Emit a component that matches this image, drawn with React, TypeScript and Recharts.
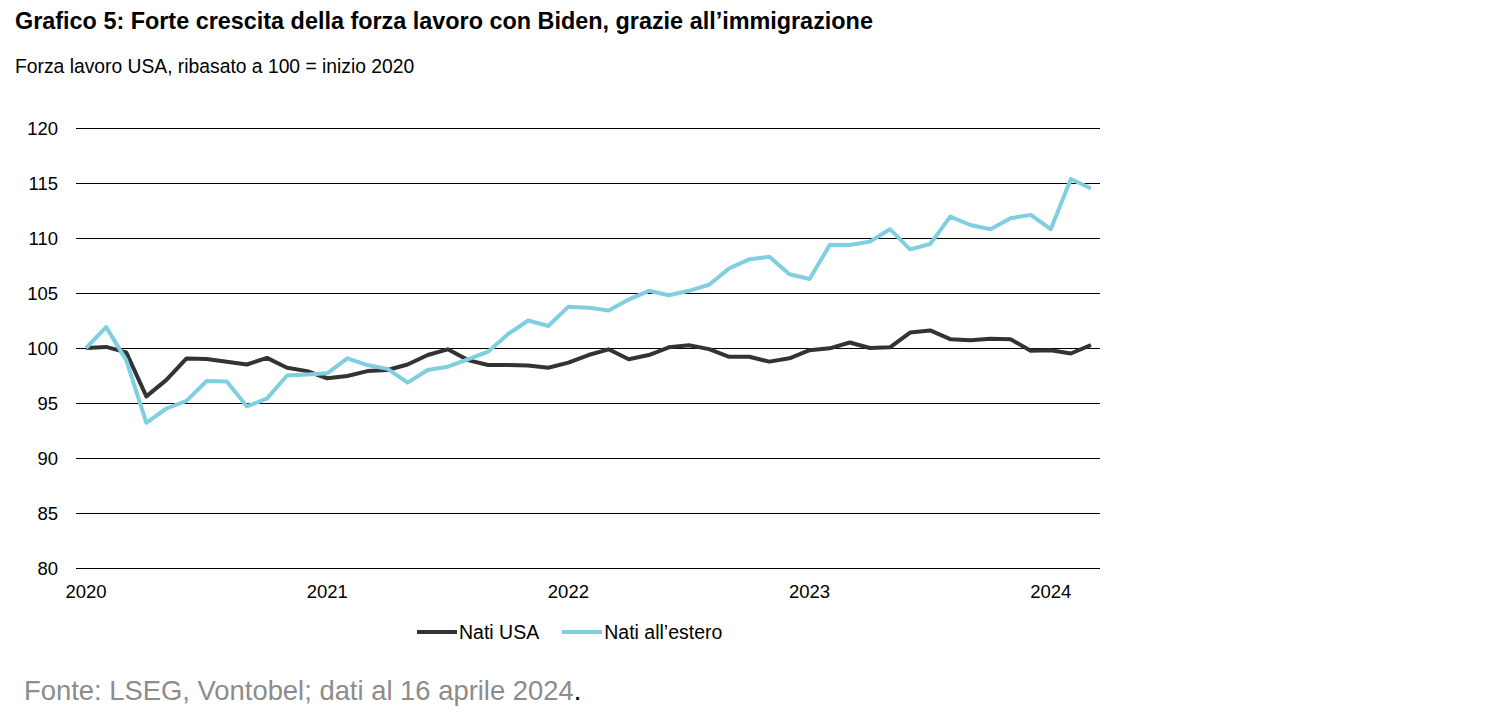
import React from "react";
import { LineChart, Line, XAxis, YAxis, CartesianGrid } from "recharts";

const months: number[] = Array.from({ length: 51 }, (_, i) => i);

const natiUSA: number[] = [
  100.0, 100.1, 99.6, 95.6, 97.1, 99.05, 99.0, 98.75, 98.5, 99.1,
  98.2, 97.9, 97.25, 97.45, 97.9, 98.0, 98.5, 99.36, 99.88, 98.9,
  98.45, 98.45, 98.4, 98.2, 98.67, 99.36, 99.88, 98.97, 99.36, 100.06,
  100.25, 99.9, 99.2, 99.2, 98.76, 99.06, 99.8, 99.97, 100.5, 100.0,
  100.06, 101.4, 101.6, 100.8, 100.7, 100.85, 100.8, 99.76, 99.8, 99.5,
  100.27,
];

const natiEstero: number[] = [
  100.0, 101.9, 98.9, 93.2, 94.5, 95.2, 97.0, 96.95, 94.7, 95.4,
  97.5, 97.6, 97.7, 99.06, 98.45, 98.1, 96.85, 98.0, 98.3, 98.97,
  99.67, 101.27, 102.5, 102.0, 103.76, 103.67, 103.4, 104.4, 105.2, 104.8,
  105.2, 105.75, 107.24, 108.06, 108.3, 106.7, 106.27, 109.36, 109.36, 109.67,
  110.8, 108.97, 109.45, 111.94, 111.18, 110.8, 111.8, 112.1, 110.8, 115.36,
  114.5,
];

const yTicks: number[] = [80, 85, 90, 95, 100, 105, 110, 115, 120];
const xTicks: number[] = [0, 12, 24, 36, 48];
const xTickLabels: string[] = ["2020", "2021", "2022", "2023", "2024"];

const seriesNames: string[] = ["Nati USA", "Nati all\u2019estero"];
const seriesColors: string[] = ["#333333", "#7fcfe0"];

const data = months.map((m, i) => ({
  m,
  usa: natiUSA[i],
  estero: natiEstero[i],
}));

const FONT = "'Liberation Sans', Arial, Helvetica, sans-serif";

export default function App() {
  return (
    <div
      style={{
        position: "absolute",
        left: 0,
        top: 0,
        width: 1500,
        height: 723,
        background: "#fff",
        fontFamily: FONT,
        overflow: "hidden",
      }}
    >
      <div
        style={{
          position: "absolute",
          left: 15,
          top: 10,
          fontSize: 23.4,
          lineHeight: "23px",
          fontWeight: 700,
          color: "#000",
          whiteSpace: "nowrap",
        }}
      >
        Grafico 5: Forte crescita della forza lavoro con Biden, grazie all’immigrazione
      </div>
      <div
        style={{
          position: "absolute",
          left: 15,
          top: 57,
          fontSize: 19.3,
          lineHeight: "19px",
          color: "#000",
          whiteSpace: "nowrap",
        }}
      >
        Forza lavoro USA, ribasato a 100 = inizio 2020
      </div>

      <div style={{ position: "absolute", left: 0, top: 0 }}>
        <LineChart
          width={1110}
          height={640}
          data={data}
          margin={{ top: 128, right: 10, left: 0, bottom: 0 }}
        >
          <CartesianGrid
            vertical={false}
            horizontal={true}
            stroke="#000"
            strokeWidth={1}
            shapeRendering="crispEdges"
          />
          <XAxis
            dataKey="m"
            type="number"
            domain={[-0.5, 50.45]}
            ticks={xTicks}
            tickFormatter={(v: number) => xTickLabels[xTicks.indexOf(v)] ?? ""}
            axisLine={false}
            tickLine={false}
            tickSize={0}
            tickMargin={17}
            height={72}
            tick={{ fill: "#000", fontSize: 18.5, fontFamily: FONT }}
            interval={0}
            allowDataOverflow={true}
          />
          <YAxis
            type="number"
            domain={[80, 120]}
            ticks={yTicks}
            width={76}
            axisLine={false}
            tickLine={false}
            tickSize={0}
            tickMargin={18}
            tick={{ fill: "#000", fontSize: 18.5, fontFamily: FONT }}
            interval={0}
          />
          <Line
            type="linear"
            dataKey="usa"
            stroke={seriesColors[0]}
            strokeWidth={4}
            dot={false}
            isAnimationActive={false}
            strokeLinejoin="round"
          />
          <Line
            type="linear"
            dataKey="estero"
            stroke={seriesColors[1]}
            strokeWidth={4}
            dot={false}
            isAnimationActive={false}
            strokeLinejoin="round"
          />
        </LineChart>
      </div>

      <div
        style={{
          position: "absolute",
          left: 417,
          top: 622,
          height: 20,
          display: "flex",
          alignItems: "center",
          fontSize: 19.5,
          color: "#000",
          whiteSpace: "nowrap",
        }}
      >
        {seriesNames.map((name, i) => (
          <div
            key={name}
            style={{
              display: "flex",
              alignItems: "center",
              marginRight: i === 0 ? 23 : 0,
            }}
          >
            <div
              style={{
                width: 40,
                height: 4,
                background: seriesColors[i],
                marginRight: 2,
              }}
            />
            <span>{name}</span>
          </div>
        ))}
      </div>

      <div
        style={{
          position: "absolute",
          left: 24,
          top: 677,
          fontSize: 27.4,
          lineHeight: "27px",
          color: "#8c8c8c",
          whiteSpace: "nowrap",
        }}
      >
        Fonte: LSEG, Vontobel; dati al 16 aprile 2024<span style={{ color: "#000" }}>.</span>
      </div>
    </div>
  );
}
